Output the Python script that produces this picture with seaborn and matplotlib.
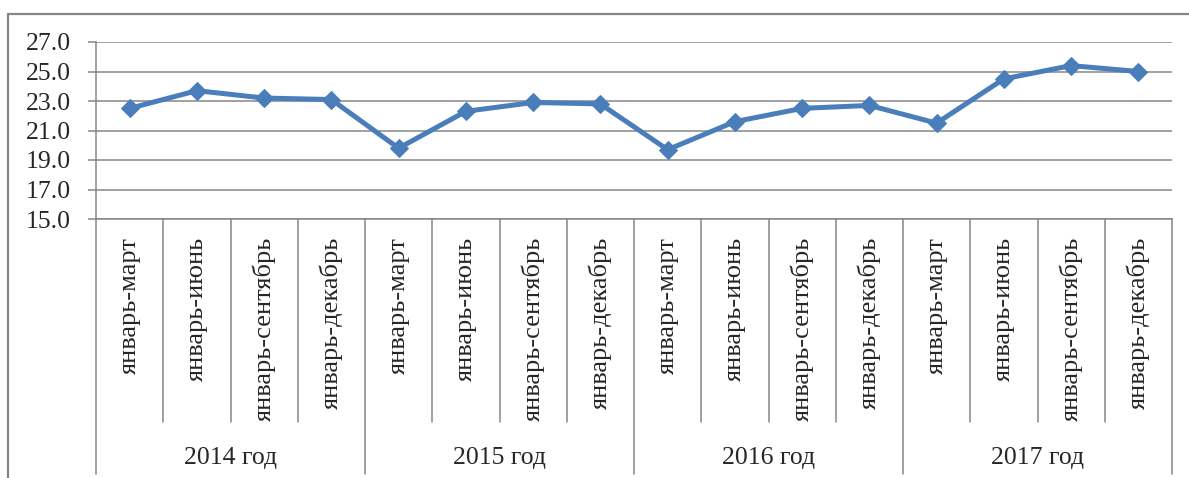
import matplotlib
matplotlib.use("Agg")
import matplotlib.pyplot as plt
from matplotlib.lines import Line2D
import numpy as np
import pandas as pd
import seaborn as sns

# Periods within each year and the yearly groups
periods = ["январь-март", "январь-июнь", "январь-сентябрь", "январь-декабрь"]
years = ["2014 год", "2015 год", "2016 год", "2017 год"]
values = [22.5, 23.7, 23.2, 23.1,
          19.8, 22.3, 22.9, 22.8,
          19.7, 21.6, 22.5, 22.7,
          21.5, 24.5, 25.4, 25.0]
y_ticks = [15.0, 17.0, 19.0, 21.0, 23.0, 25.0, 27.0]

sns.set_theme(style="white")
plt.rcParams["font.family"] = ["Liberation Serif", "DejaVu Serif"]

line_color = "#4A7EBB"
grid_color = "#868686"

df = pd.DataFrame({
    "pos": np.arange(len(values)),
    "value": values,
})

W, H = 1189, 478
fig = plt.figure(figsize=(W / 100, H / 100), dpi=100)
ax_left, ax_right, ax_top, ax_bottom = 96, 1172, 42, 219
ax = fig.add_axes([ax_left / W, 1 - ax_bottom / H,
                   (ax_right - ax_left) / W, (ax_bottom - ax_top) / H])

sns.lineplot(data=df, x="pos", y="value", ax=ax, color=line_color,
             linewidth=3.6, marker="D", markersize=9.5,
             markeredgecolor=line_color, markerfacecolor=line_color,
             zorder=5, clip_on=False)

n = len(values)
ax.set_xlim(-0.5, n - 0.5)
ax.set_ylim(y_ticks[0], y_ticks[-1])
ax.set_yticks(y_ticks)
ax.set_yticklabels([f"{t:.1f}" for t in y_ticks], fontsize=18.5)
ax.tick_params(axis="y", length=6, width=1.1, color=grid_color, pad=12, left=True)
ax.yaxis.grid(True, color=grid_color, linewidth=1.1)
ax.set_axisbelow(True)

# category labels (rotated) at each point
labels = [p for _ in years for p in periods]
ax.set_xticks(np.arange(n))
ax.set_xticklabels(labels, rotation=90, fontsize=19, va="top", ha="center")
ax.tick_params(axis="x", length=0, pad=13)
ax.set_xlabel("")
ax.set_ylabel("")

for side in ["top", "right"]:
    ax.spines[side].set_visible(False)
ax.spines["left"].set_color(grid_color)
ax.spines["left"].set_linewidth(1.1)
ax.spines["bottom"].set_color(grid_color)
ax.spines["bottom"].set_linewidth(1.1)

# separators between categories and between year groups
axh = ax_bottom - ax_top
inner_end = -(422 - ax_bottom) / axh
group_end = -(474 - ax_bottom) / axh
per = len(periods)
for b in np.arange(n + 1) - 0.5:
    is_group = int(round(b + 0.5)) % per == 0
    ax.axvline(b, ymin=group_end if is_group else inner_end, ymax=0,
               color=grid_color, linewidth=1.1, clip_on=False)

# year group labels
year_y = -(458 - ax_bottom) / axh
for i, yr in enumerate(years):
    ax.text(i * per + (per - 1) / 2, year_y, yr, transform=ax.get_xaxis_transform(),
            ha="center", va="center", fontsize=18.5)

# outer chart frame
fig.add_artist(Line2D([8 / W, 8 / W], [0, 1 - 14 / H], transform=fig.transFigure,
                      color=grid_color, linewidth=1.6))
fig.add_artist(Line2D([8 / W, 1], [1 - 14 / H, 1 - 14 / H], transform=fig.transFigure,
                      color=grid_color, linewidth=1.6))

fig.savefig("out.png", dpi=100, facecolor="white")
